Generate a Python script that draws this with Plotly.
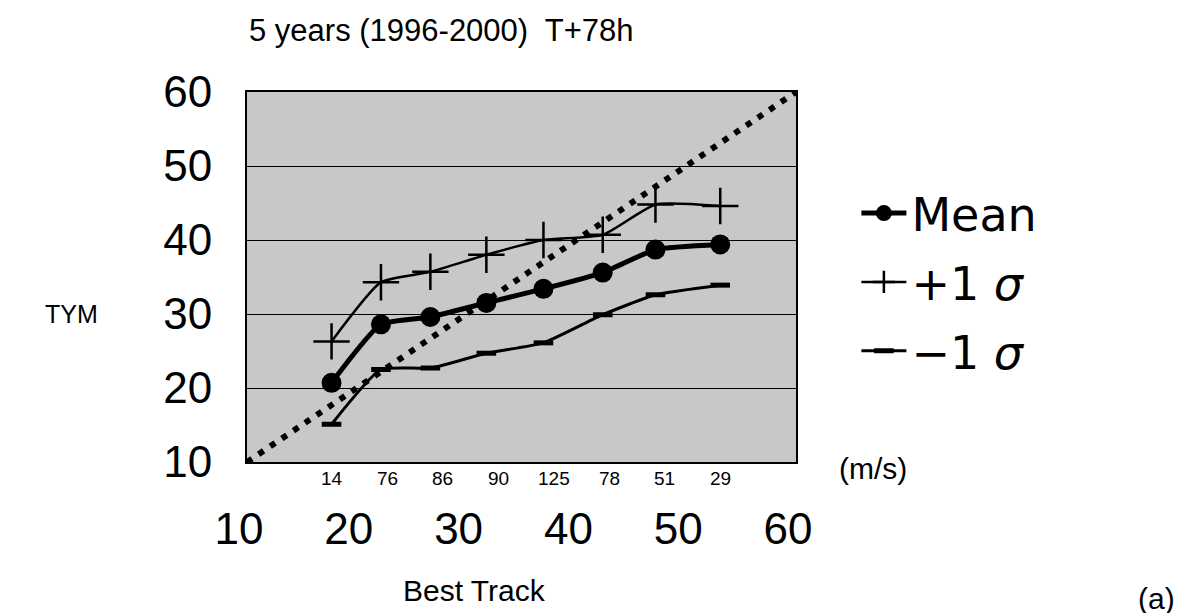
import numpy as np
import plotly.graph_objects as go

# ---- data ----
best_track = [17.7, 22.2, 26.7, 31.8, 37.0, 42.4, 47.2, 53.1]   # m/s (bin means)
tym_mean   = [20.7, 28.6, 29.6, 31.5, 33.4, 35.6, 38.7, 39.4]
tym_plus   = [26.3, 34.3, 35.7, 38.0, 40.0, 40.7, 44.8, 44.6]
tym_minus  = [15.1, 22.5, 22.7, 24.7, 26.1, 29.9, 32.6, 33.9]
counts     = [14, 76, 86, 90, 125, 78, 51, 29]
diag_ends  = [10, 60]            # 1:1 reference line
x_ticks    = [10, 20, 30, 40, 50, 60]
y_ticks    = [10, 20, 30, 40, 50, 60]

FONT = "Liberation Sans, Arial, sans-serif"
LFONT = "DejaVu Sans, Liberation Sans, sans-serif"

fig = go.Figure()

fig.add_trace(go.Scatter(
    x=diag_ends, y=diag_ends, mode="lines", showlegend=False,
    line=dict(color="black", width=6, dash="6px,8px"), hoverinfo="skip"))

fig.add_trace(go.Scatter(
    x=best_track, y=tym_mean, mode="lines+markers", name="Mean",
    legendgroup="a",
    line=dict(color="black", width=5, shape="spline", smoothing=0.5),
    marker=dict(symbol="circle", size=20, color="black")))

fig.add_trace(go.Scatter(
    x=best_track, y=tym_plus, mode="lines+markers", name="+1 <i>σ</i>",
    legendgroup="b",
    line=dict(color="black", width=2.5, shape="spline", smoothing=0.5),
    marker=dict(symbol="cross-thin", size=26, color="black",
                line=dict(color="black", width=2.5))))

fig.add_trace(go.Scatter(
    x=best_track, y=tym_minus, mode="lines+markers", name="−1 <i>σ</i>",
    legendgroup="c",
    line=dict(color="black", width=3, shape="spline", smoothing=0.5),
    marker=dict(symbol="line-ew", size=14, color="black",
                line=dict(color="black", width=5))))

# sample counts: category-style labels, evenly spaced under the bins
count_pos = np.linspace(best_track[0], best_track[-1], len(counts))
for xv, c in zip(count_pos, counts):
    fig.add_annotation(x=xv, y=-0.045, xref="x", yref="paper", text=str(c),
                       xanchor="center", yanchor="middle",
                       showarrow=False, font=dict(size=19, family=FONT, color="black"))

ann = [
    dict(x=0.355, y=1.165, text="5 years (1996-2000)  T+78h", size=31),
    dict(x=-0.32, y=0.40, text="TYM", size=25),
    dict(x=1.14, y=-0.018, text="(m/s)", size=30),
    dict(x=0.415, y=-0.346, text="Best Track", size=30),
    dict(x=1.656, y=-0.370, text="(a)", size=30),
]
for a in ann:
    fig.add_annotation(x=a["x"], y=a["y"], xref="paper", yref="paper", text=a["text"],
                       xanchor="center", yanchor="middle",
                       showarrow=False, font=dict(size=a["size"], family=FONT, color="black"))

fig.update_layout(
    width=1185, height=613,
    margin=dict(l=239, r=397, t=84, b=159),
    paper_bgcolor="white", plot_bgcolor="#c8c8c8",
    font=dict(family=FONT, color="black"),
    legend=dict(x=1.11, y=0.486, xanchor="left", yanchor="middle",
                font=dict(size=46, family=LFONT), tracegroupgap=6,
                bgcolor="rgba(0,0,0,0)", itemwidth=45),
)
fig.update_xaxes(range=[10, 60], tickmode="array", tickvals=x_ticks,
                 ticks="", showgrid=False, zeroline=False,
                 showline=True, linecolor="black", linewidth=2, mirror=True,
                 tickfont=dict(size=44, family=FONT), ticklabelstandoff=27,
                 ticklabelshift=-8)
fig.update_yaxes(range=[10, 60], tickmode="array", tickvals=y_ticks,
                 ticks="", showgrid=True, gridcolor="black", gridwidth=1,
                 zeroline=False, showline=True, linecolor="black", linewidth=2,
                 mirror=True, tickfont=dict(size=44, family=FONT),
                 ticklabelstandoff=24)

fig.write_html("out.html")
